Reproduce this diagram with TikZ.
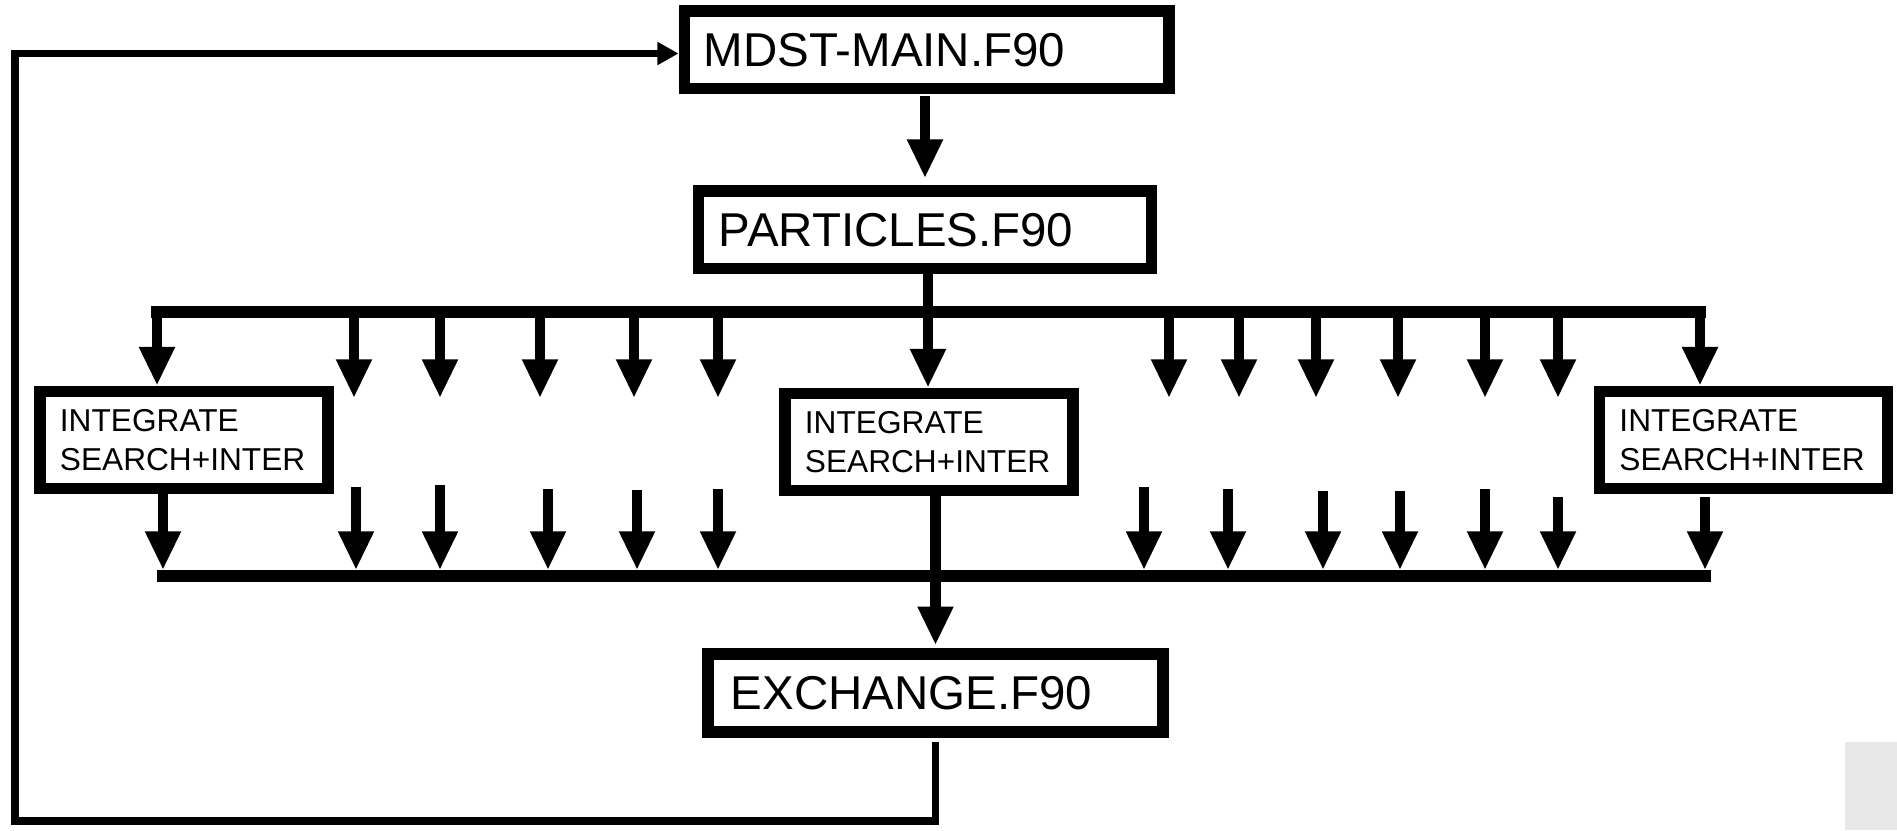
\documentclass[tikz,border=0pt]{standalone}
\usepackage{fontspec}
\setmainfont{Liberation Sans}
\usetikzlibrary{arrows.meta}
\begin{document}
\begin{tikzpicture}[x=0.01cm,y=-0.01cm,
  box/.style={draw,line width=3.3pt,fill=white,inner ysep=0pt,align=left},
  big/.style={box,font=\fontsize{13.5}{16}\selectfont,minimum height=0.775cm},
  small/.style={box,font=\fontsize{9}{11}\selectfont,minimum width=2.88cm,minimum height=0.97cm,text width=2.48cm,inner xsep=0.2cm},
  fat/.style={line width=3.1pt,-{Triangle[width=9.5pt,length=11pt]}},
  bus/.style={line width=3.4pt,line cap=rect},
  loop/.style={line width=2pt,-{Triangle[width=6.2pt,length=6pt]}}]
\useasboundingbox (0,0) rectangle (1897,830);
\fill[gray!18] (1845,742) rectangle (1897,830);

% boxes
\node[big,minimum width=4.845cm,text width=4.455cm,inner xsep=0.195cm] (main) at (926.75,49.75) {MDST-MAIN.F90};
\node[big,minimum width=4.53cm,text width=4.12cm,inner xsep=0.205cm] (part) at (925,229.75) {PARTICLES.F90};
\node[big,minimum width=4.55cm,minimum height=0.78cm,text width=4.09cm,inner xsep=0.23cm] (exch) at (935.5,693) {EXCHANGE.F90};
\node[small] (int1) at (184,440) {INTEGRATE\\SEARCH+INTER};
\node[small] (int2) at (929,442) {INTEGRATE\\SEARCH+INTER};
\node[small] (int3) at (1743.5,440) {INTEGRATE\\SEARCH+INTER};

% bus coordinates
\coordinate (tbL) at (157,312);
\coordinate (tbM) at (928,312);
\coordinate (tbR) at (1700,312);
\coordinate (bbL) at (163,576);
\coordinate (bbR) at (1705,576);
\coordinate (lpB) at (15,821);
\coordinate (lpT) at (15,53.5);

% main -> particles
\draw[fat,shorten <=0.02cm,shorten >=0.07cm] (part.north |- main.south) -- (part.north);

% top bus
\draw[bus] (tbL) -- (tbR);
\draw[fat] (tbM |- part.south) -- (tbM |- int2.north);
\draw[fat] (tbL) -- (tbL |- int1.north);
\draw[fat] (tbR) -- (tbR |- int3.north);
\foreach \x in {354,440,540,634,718,1169,1239,1316,1398,1485,1558}
  \draw[fat] (\x,312) -- (\x,398);

% lower arrows
\foreach \x/\y in {356/487,440/485,548/489,637/490,718/489,1144/487,1228/489,1323/491,1400/491,1485/489,1558/497}
  \draw[fat] (\x,\y) -- (\x,570);
\draw[fat,shorten >=0.06cm] (bbL |- int1.south) -- (bbL);
\draw[fat,shorten <=0.03cm,shorten >=0.06cm] (bbR |- int3.south) -- (bbR);

% bottom bus
\draw[bus] (bbL) -- (bbR);

% middle -> exchange
\draw[fat,shorten >=0.03cm] (int2.south -| exch.north) -- (exch.north);

% return loop
\draw[loop,shorten <=0.04cm] (exch.south) -- (exch.south |- lpB) -- (lpB) -- (lpT) -- (lpT -| main.west);
\end{tikzpicture}
\end{document}
